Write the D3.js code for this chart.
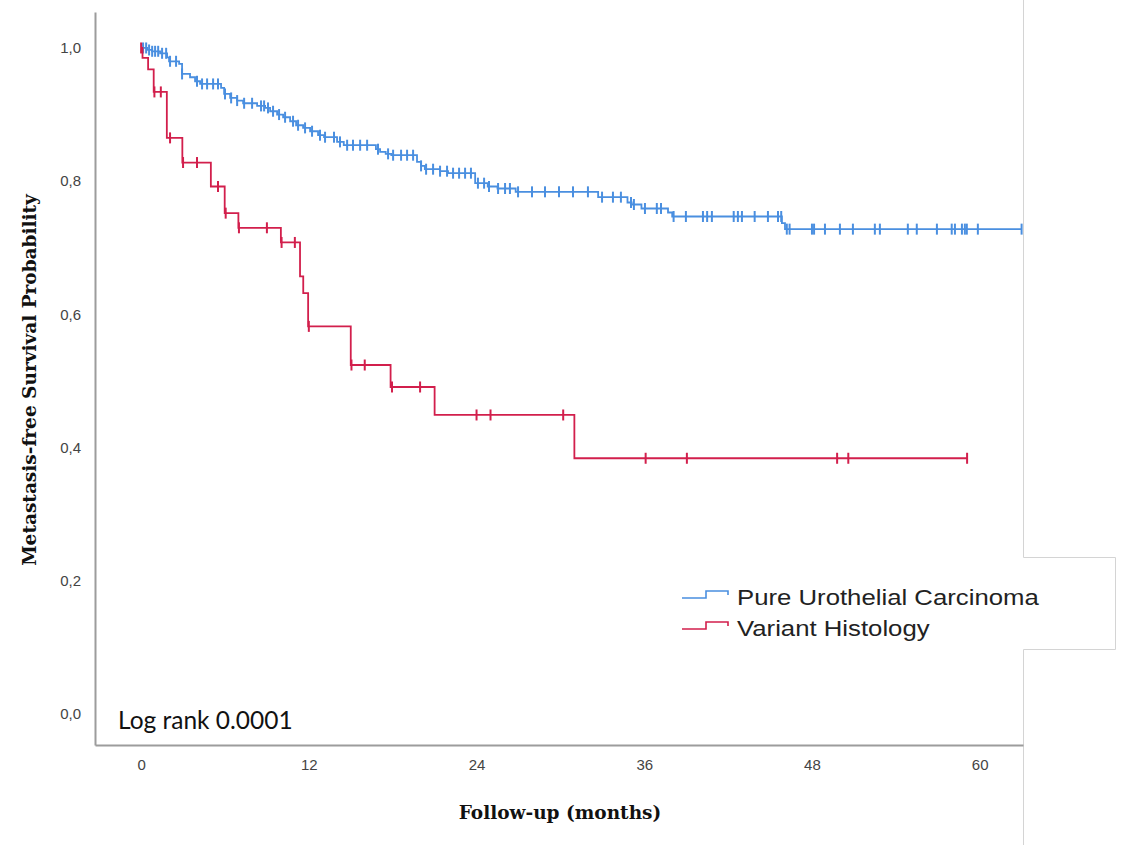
<!DOCTYPE html>
<html>
<head>
<meta charset="utf-8">
<script src="https://cdn.jsdelivr.net/npm/d3@7"></script>
<style>
  body { margin: 0; background: #fff; }
  svg { display: block; }
</style>
</head>
<body>
<svg width="1128" height="845"></svg>
<script>
// Kaplan-Meier steps: [month, survival after the drop]
var pureSteps = [
  [0, 1], [0.43, 0.997], [0.79, 0.995], [1.36, 0.992], [1.86, 0.986], [2.0, 0.980],
  [2.72, 0.976], [2.93, 0.961], [3.5, 0.956], [3.86, 0.950], [4.22, 0.946], [5.72, 0.940],
  [5.94, 0.931], [6.37, 0.925], [6.87, 0.921], [7.3, 0.917], [8.3, 0.913], [8.87, 0.910],
  [9.23, 0.905], [9.73, 0.900], [10.16, 0.896], [10.66, 0.890], [11.09, 0.884], [11.59, 0.880],
  [12.09, 0.875], [12.66, 0.869], [13.09, 0.866], [14.02, 0.859], [14.5, 0.854], [16.8, 0.848],
  [17.1, 0.844], [17.5, 0.841], [17.9, 0.839], [19.74, 0.829], [20.03, 0.823], [20.3, 0.818],
  [21.39, 0.815], [21.96, 0.812], [23.9, 0.797], [24.8, 0.792], [25.5, 0.789], [26.8, 0.784],
  [32.7, 0.776], [34.8, 0.768], [35.1, 0.765], [35.8, 0.759], [37.7, 0.753], [38.0, 0.747],
  [45.85, 0.737], [46.07, 0.728]
];
var pureEnd = 63.0;
var pureCensored = [
  0.14, 0.36, 0.57, 0.79, 1.0, 1.22, 1.5, 1.79, 2.07, 2.5, 2.93, 4.0, 4.36, 4.72, 5.15, 5.5,
  6.0, 6.44, 6.87, 7.37, 7.94, 8.58, 8.8, 9.08, 9.44, 9.87, 10.3, 10.87, 11.23, 11.73, 12.23,
  12.8, 13.16, 13.8, 14.23, 14.74, 15.16, 15.67, 16.17, 16.95, 17.67, 18.03, 18.6, 19.03, 19.46,
  20.03, 20.39, 20.89, 21.39, 21.89, 22.32, 22.75, 23.18, 23.6, 24.1, 24.54, 24.89, 25.54, 26.04,
  26.39, 26.97, 27.97, 28.9, 29.9, 30.9, 31.97, 32.98, 33.76, 34.33, 35.05, 35.26, 36.05, 36.9,
  37.2, 38.1, 38.98, 40.2, 40.5, 40.84, 42.4, 42.7, 42.99, 43.9, 44.85, 45.57, 45.8, 46.2, 46.4,
  48.0, 48.15, 48.93, 50.0, 50.93, 52.5, 52.86, 54.86, 55.5, 56.94, 58.0, 58.23, 58.73, 58.94,
  59.08, 59.87, 63.0
];

var variantSteps = [
  [0, 1], [0.1, 0.985], [0.5, 0.968], [0.9, 0.934], [1.84, 0.865], [2.95, 0.828], [4.99, 0.792],
  [5.98, 0.752], [6.96, 0.730], [10.0, 0.708], [11.37, 0.657], [11.6, 0.632], [11.95, 0.582],
  [15.0, 0.524], [17.85, 0.491], [21.0, 0.449], [31.0, 0.384]
];
var variantEnd = 59.1;
var variantCensored = [
  0, 0.95, 1.41, 2.07, 3.0, 4.0, 5.5, 6.05, 7.0, 9.0, 10.05, 11.0, 12.0, 15.05, 16.0, 17.95,
  19.96, 24.0, 25.0, 30.2, 36.1, 39.05, 49.8, 50.6, 59.1
];

var xTicks = [0, 12, 24, 36, 48, 60];
var yTicks = [0, 0.2, 0.4, 0.6, 0.8, 1.0];

var groups = [
  { name: "Pure Urothelial Carcinoma", color: "#4a8fe0", steps: pureSteps, end: pureEnd, censored: pureCensored },
  { name: "Variant Histology", color: "#d21f4c", steps: variantSteps, end: variantEnd, censored: variantCensored }
];

var svg = d3.select("svg");

var x = d3.scaleLinear().domain([-3.3, 63.1]).range([95, 1023]);
var y = d3.scaleLinear().domain([-0.0465, 1.054]).range([745, 12]);

// frame edge of the original panel
svg.append("path")
    .attr("d", "M1023.5,0V557.5H1115.5V649.5H1023.5V845")
    .attr("fill", "none")
    .attr("stroke", "#d4d4d4")
    .attr("stroke-width", 1);

// axes without tick marks
var yAxis = svg.append("g")
    .attr("transform", "translate(95,0)")
    .call(d3.axisLeft(y).tickValues(yTicks).tickSize(0).tickPadding(14)
      .tickFormat(function(d) { return d3.format(".1f")(d).replace(".", ","); }));
var xAxis = svg.append("g")
    .attr("transform", "translate(0,745)")
    .call(d3.axisBottom(x).tickValues(xTicks).tickSize(0).tickPadding(14));

[yAxis, xAxis].forEach(function(a) {
  a.select(".domain").attr("stroke", "#9c9c9c").attr("stroke-width", 2);
  a.selectAll("text")
      .attr("font-family", "'Liberation Sans', Arial, sans-serif")
      .attr("font-size", 15)
      .attr("fill", "#444");
});

svg.append("text")
    .attr("x", 560).attr("y", 819)
    .attr("text-anchor", "middle")
    .attr("font-family", "'DejaVu Serif', serif")
    .attr("font-weight", "bold")
    .attr("font-size", 18.5)
    .attr("fill", "#111")
    .text("Follow-up (months)");

svg.append("text")
    .attr("transform", "translate(36,380) rotate(-90)")
    .attr("text-anchor", "middle")
    .attr("font-family", "'DejaVu Serif', serif")
    .attr("font-weight", "bold")
    .attr("font-size", 18.5)
    .attr("fill", "#111")
    .text("Metastasis-free Survival Probability");

svg.append("text")
    .attr("x", 118).attr("y", 729)
    .attr("font-family", "Lato, 'Open Sans', sans-serif")
    .attr("font-size", 24.5)
    .attr("fill", "#111")
    .text("Log rank 0.0001");

function survivalAt(steps, t) {
  var s = steps[0][1];
  steps.forEach(function(p) { if (p[0] <= t) s = p[1]; });
  return s;
}

var line = d3.line()
    .curve(d3.curveStepAfter)
    .x(function(d) { return x(d[0]); })
    .y(function(d) { return y(d[1]); });

groups.forEach(function(g) {
  var pts = g.steps.concat([[g.end, g.steps[g.steps.length - 1][1]]]);
  svg.append("path")
      .datum(pts)
      .attr("d", line)
      .attr("fill", "none")
      .attr("stroke", g.color)
      .attr("stroke-width", 1.8);

  svg.append("g").selectAll("line")
      .data(g.censored)
      .enter().append("line")
      .attr("x1", function(d) { return x(d); })
      .attr("x2", function(d) { return x(d); })
      .attr("y1", function(d) { return y(survivalAt(g.steps, d)) - 5.5; })
      .attr("y2", function(d) { return y(survivalAt(g.steps, d)) + 5.5; })
      .attr("stroke", g.color)
      .attr("stroke-width", 2);
});

// legend
var legend = svg.append("g").attr("transform", "translate(682,0)");
groups.forEach(function(g, i) {
  var base = 598 + i * 31;
  legend.append("path")
      .attr("d", "M0," + base + "H24V" + (base - 7) + "H46V" + (base - 3))
      .attr("fill", "none")
      .attr("stroke", g.color)
      .attr("stroke-width", 1.6);
  legend.append("text")
      .attr("transform", "translate(55," + (base + 7) + ") scale(1.17,1)")
      .attr("font-family", "'Liberation Sans', Arial, sans-serif")
      .attr("font-size", 22)
      .attr("fill", "#222")
      .text(g.name);
});
</script>
</body>
</html>
